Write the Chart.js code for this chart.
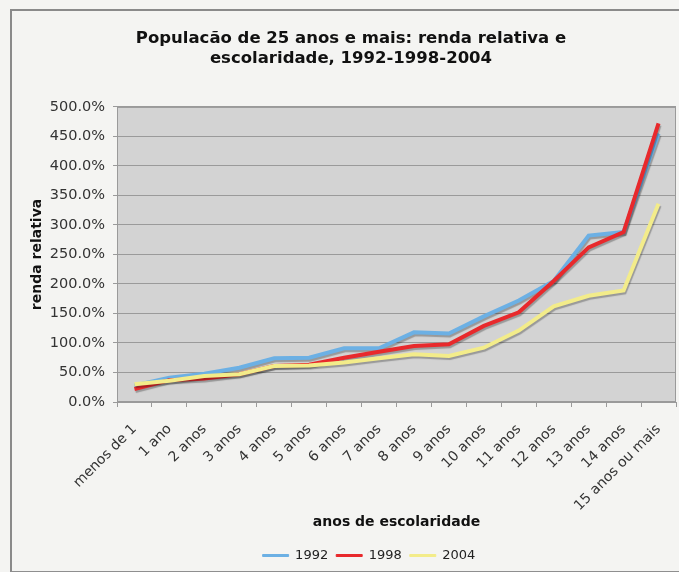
<!DOCTYPE html>
<html lang="pt">
<head>
<meta charset="utf-8">
<title>Renda relativa e escolaridade</title>
<script src="https://cdn.jsdelivr.net/npm/chart.js@4/dist/chart.umd.min.js"></script>
<style>
    html, body { margin: 0; padding: 0; background: #f4f4f2; }
    body { width: 679px; height: 572px; position: relative; overflow: hidden; }
    .frame {
        position: absolute; left: 10px; top: 9px; width: 680px; height: 560px;
        border: 1px solid #8f8f8f; border-top: 2px solid #8a8a8a; border-left: 2px solid #8a8a8a;
    }
    #chartRenda { position: absolute; left: 0; top: 0; }
</style>
</head>
<body>
<div class="frame"></div>
<canvas id="chartRenda" width="679" height="572"></canvas>
<script>
/* ═══════════════════════════════════════════
   DADOS
═══════════════════════════════════════════ */
const categorias = ['menos de 1', '1 ano', '2 anos', '3 anos', '4 anos', '5 anos', '6 anos', '7 anos',
    '8 anos', '9 anos', '10 anos', '11 anos', '12 anos', '13 anos', '14 anos', '15 anos ou mais'];

// renda relativa, em %
const renda1992 = [28, 41, 48, 58, 74, 75, 91, 91, 118, 116, 145, 172, 205, 282, 288, 455];
const renda1998 = [22, 37, 40, 47, 61, 63, 75, 85, 95, 98, 129, 152, 205, 262, 288, 472];
const renda2004 = [30, 36, 44, 47, 61, 62, 67, 74, 81, 78, 92, 121, 162, 180, 189, 336];

const anos = ['1992', '1998', '2004'];
const cores = ['#6cb0e4', '#e8292c', '#f3ec8a'];

/* ═══════════════════════════════════════════
   PLUGINS
═══════════════════════════════════════════ */

// fundo cinza da área de plotagem
const plotBg = {
    id: 'plotBg',
    beforeDraw(chart) {
        const { ctx, chartArea: a } = chart;
        ctx.save();
        ctx.fillStyle = '#d3d3d3';
        ctx.fillRect(a.left, a.top, a.right - a.left, a.bottom - a.top);
        ctx.strokeStyle = '#9a9a9a';
        ctx.lineWidth = 1;
        ctx.strokeRect(a.left + 0.5, a.top + 0.5, a.right - a.left - 1, a.bottom - a.top - 1);
        ctx.restore();
    }
};

// sombra leve sob as linhas (estilo Excel)
const lineShadow = {
    id: 'lineShadow',
    beforeDatasetsDraw(chart) {
        const ctx = chart.ctx;
        ctx.save();
        ctx.shadowColor = 'rgba(0,0,0,0.28)';
        ctx.shadowOffsetX = 1;
        ctx.shadowOffsetY = 2;
        ctx.shadowBlur = 1;
    },
    afterDatasetsDraw(chart) {
        chart.ctx.restore();
    }
};

// desloca legenda e título um pouco para a direita
const blockShift = {
    id: 'blockShift',
    afterLayout(chart) {
        if (chart.legend) {
            chart.legend.left += 21;
            chart.legend.right += 21;
        }
        if (chart.titleBlock) {
            chart.titleBlock.left += 3;
            chart.titleBlock.right += 3;
        }
    }
};

/* ═══════════════════════════════════════════
   GRÁFICO
═══════════════════════════════════════════ */
const series = [renda1992, renda1998, renda2004];

const rendaChart = new Chart(document.getElementById('chartRenda'), {
    type: 'line',
    data: {
        labels: categorias,
        datasets: series.map((valores, i) => ({
            label: anos[i],
            data: valores,
            borderColor: cores[i],
            backgroundColor: cores[i],
            borderWidth: 4,
            pointRadius: 0,
            tension: 0,
            order: 3 - i
        }))
    },
    options: {
        responsive: false,
        animation: false,
        devicePixelRatio: 1,
        layout: { padding: { left: 20, right: 3, top: 0, bottom: 0 } },
        plugins: {
            title: {
                display: true,
                text: ['Populacão de 25 anos e mais: renda relativa e', 'escolaridade, 1992-1998-2004'],
                color: '#111',
                font: { family: 'DejaVu Sans', size: 16.5, weight: 'bold', lineHeight: 1.21 },
                padding: { top: 29, bottom: 38 }
            },
            legend: {
                position: 'bottom',
                labels: {
                    color: '#222',
                    font: { family: 'DejaVu Sans', size: 13 },
                    boxWidth: 26,
                    boxHeight: 2,
                    padding: 8,
                    sort: (a, b) => a.datasetIndex - b.datasetIndex,
                    generateLabels(chart) {
                        return Chart.defaults.plugins.legend.labels.generateLabels(chart)
                            .map(l => ({ ...l, lineWidth: 1, strokeStyle: l.fillStyle }));
                    }
                }
            },
            tooltip: { enabled: false }
        },
        scales: {
            x: {
                offset: true,
                grid: { offset: true, drawOnChartArea: false, drawTicks: true, tickLength: 5, color: '#9a9a9a' },
                border: { color: '#9a9a9a' },
                ticks: {
                    color: '#333',
                    font: { family: 'DejaVu Sans', size: 14 },
                    minRotation: 45,
                    maxRotation: 45,
                    autoSkip: false,
                    padding: 14
                },
                title: {
                    display: true,
                    text: 'anos de escolaridade',
                    color: '#111',
                    font: { family: 'DejaVu Sans', size: 14, weight: 'bold' },
                    padding: { top: 4, bottom: 10 }
                },
                afterFit(scale) {
                    scale.height = 139;
                    scale.paddingLeft = 0;
                    scale.paddingRight = 0;
                }
            },
            y: {
                min: 0,
                max: 500,
                grid: { color: '#9a9a9a', tickLength: 4 },
                border: { color: '#9a9a9a' },
                ticks: {
                    stepSize: 50,
                    color: '#333',
                    font: { family: 'DejaVu Sans', size: 14.5 },
                    padding: 8,
                    callback: v => v.toFixed(1) + '%'
                },
                title: {
                    display: true,
                    text: 'renda relativa',
                    color: '#111',
                    font: { family: 'DejaVu Sans', size: 14, weight: 'bold' },
                    padding: { top: 9, bottom: 0 }
                },
                afterFit(scale) { scale.width = 97; }
            }
        }
    },
    plugins: [plotBg, lineShadow, blockShift]
});
</script>
</body>
</html>
